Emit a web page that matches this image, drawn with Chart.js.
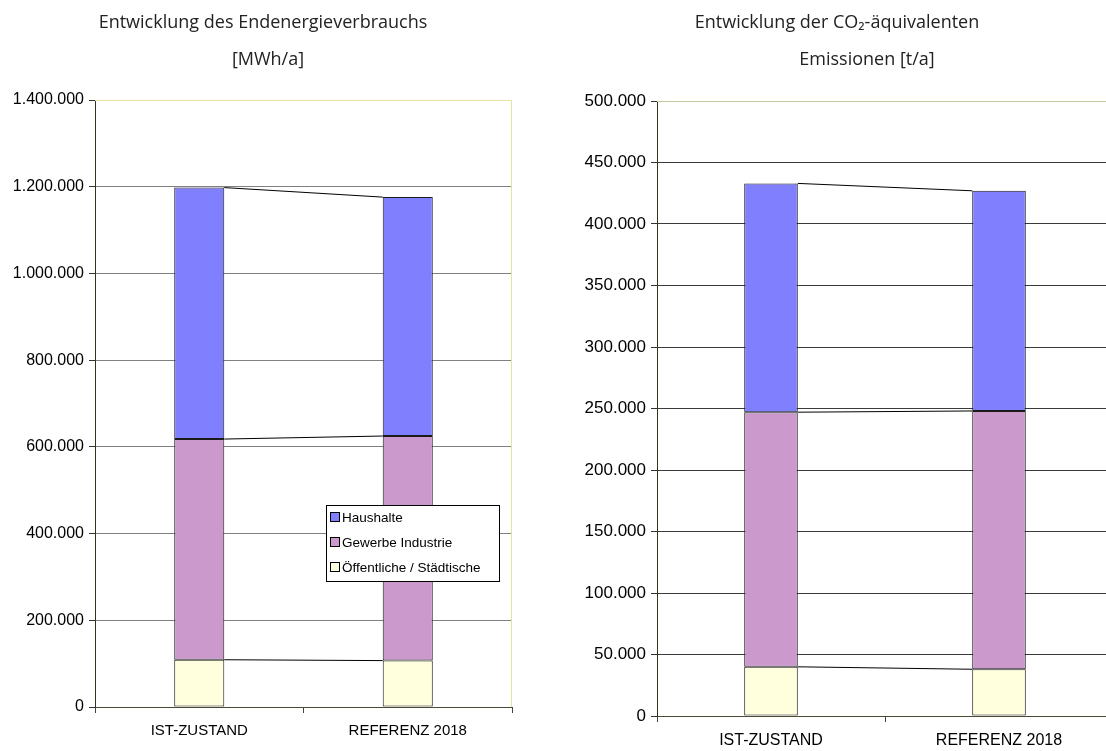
<!DOCTYPE html>
<html>
<head>
<meta charset="utf-8">
<script src="https://cdn.jsdelivr.net/npm/chart.js@4.4.1/dist/chart.umd.min.js"></script>
<style>
  html, body { margin: 0; padding: 0; background: #fff; overflow: hidden; }
  #wrap { position: relative; width: 1106px; height: 751px; overflow: hidden; }
  canvas { position: absolute; top: 0; }
  #energyChart { left: 0; }
  #co2Chart { left: 553px; }
</style>
</head>
<body>
<div id="wrap">
  <canvas id="energyChart" width="553" height="751"></canvas>
  <canvas id="co2Chart" width="570" height="751"></canvas>
</div>
<script>
const categories = ["IST-ZUSTAND", "REFERENZ 2018"];
const seriesLabels = ["Haushalte", "Gewerbe Industrie", "Öffentliche / Städtische"];
const seriesColors = ["#8080ff", "#cc99cc", "#ffffdd"];

// Endenergieverbrauch [MWh/a]
const energyHaushalte = [580000, 551000];
const energyGewerbe = [509000, 518000];
const energyOeffentlich = [109000, 107000];
const energyTitle = ["Entwicklung des Endenergieverbrauchs", "[MWh/a]"];
const energyMax = 1400000;
const energyStep = 200000;

// CO2-äquivalente Emissionen [t/a]
const co2Haushalte = [186000, 179000];
const co2Gewerbe = [207000, 210000];
const co2Oeffentlich = [40000, 38000];
const co2Title = ["Entwicklung der CO₂-äquivalenten", "Emissionen [t/a]"];
const co2Max = 500000;
const co2Step = 50000;

function fmt(v) {
  return String(v).replace(/\B(?=(\d{3})+(?!\d))/g, ".");
}

function makeDatasets(haushalte, gewerbe, oeffentlich) {
  // bottom segment first so the stack matches the legend read top-down
  const values = [haushalte, gewerbe, oeffentlich];
  return [2, 1, 0].map((i) => ({
    label: seriesLabels[i],
    data: values[i],
    backgroundColor: seriesColors[i],
    borderColor: "#1a1a1a",
    borderWidth: 1,
    borderSkipped: false,
    stack: "s",
  }));
}

// thin lines joining the segment tops of neighbouring columns
const seriesLines = {
  id: "seriesLines",
  afterDatasetsDraw(chart) {
    const ctx = chart.ctx;
    ctx.save();
    ctx.strokeStyle = "#000";
    ctx.lineWidth = 1;
    chart.data.datasets.forEach((ds, d) => {
      const bars = chart.getDatasetMeta(d).data;
      for (let i = 0; i < bars.length - 1; i++) {
        const a = bars[i], b = bars[i + 1];
        ctx.beginPath();
        ctx.moveTo(a.x + a.width / 2, a.y);
        ctx.lineTo(b.x - b.width / 2, b.y);
        ctx.stroke();
      }
    });
    ctx.restore();
  },
};

// plot area border (top and right) and the two-line heading
const frameAndTitle = {
  id: "frameAndTitle",
  beforeDatasetsDraw(chart, args, opts) {
    const { left, right, top, bottom } = chart.chartArea;
    const ctx = chart.ctx;
    ctx.save();
    ctx.strokeStyle = opts.frameColor;
    ctx.lineWidth = 1;
    ctx.beginPath();
    ctx.moveTo(left, top + 0.5);
    ctx.lineTo(right, top + 0.5);
    ctx.moveTo(right - 0.5, top);
    ctx.lineTo(right - 0.5, bottom);
    ctx.stroke();
    ctx.restore();
  },
  afterDraw(chart, args, opts) {
    const ctx = chart.ctx;
    ctx.save();
    ctx.fillStyle = "#222";
    ctx.font = opts.font;
    ctx.textAlign = "center";
    ctx.textBaseline = "middle";
    opts.lines.forEach((t, i) => ctx.fillText(t, opts.centers[i], opts.rows[i]));
    ctx.restore();
  },
};

// legend box drawn over the plot of the energy chart
const boxLegend = {
  id: "boxLegend",
  afterDraw(chart, args, opts) {
    if (!opts.show) return;
    const ctx = chart.ctx;
    const { x, y, w, h } = opts;
    ctx.save();
    ctx.fillStyle = "#fff";
    ctx.fillRect(x, y, w, h);
    ctx.strokeStyle = "#000";
    ctx.lineWidth = 1;
    ctx.strokeRect(x + 0.5, y + 0.5, w, h);
    ctx.font = "13.5px 'Liberation Sans', Arial, sans-serif";
    ctx.textBaseline = "middle";
    const items = chart.data.datasets.slice().reverse();
    items.forEach((ds, i) => {
      const cy = y + 12 + i * 25;
      ctx.fillStyle = ds.backgroundColor;
      ctx.fillRect(x + 4.5, cy - 4.5, 9, 9);
      ctx.strokeStyle = "#000";
      ctx.strokeRect(x + 4.5, cy - 4.5, 9, 9);
      ctx.fillStyle = "#000";
      ctx.fillText(ds.label, x + 16, cy + 1);
    });
    ctx.restore();
  },
};

function buildChart(id, cfg) {
  return new Chart(document.getElementById(id), {
    type: "bar",
    data: {
      labels: categories,
      datasets: makeDatasets(cfg.haushalte, cfg.gewerbe, cfg.oeffentlich),
    },
    plugins: [frameAndTitle, seriesLines, boxLegend],
    options: {
      responsive: false,
      animation: false,
      events: [],
      categoryPercentage: 1,
      barPercentage: cfg.barPct,
      layout: { padding: { top: cfg.top, right: cfg.right, left: 0, bottom: 0 } },
      plugins: {
        legend: { display: false },
        title: { display: false },
        tooltip: { enabled: false },
        frameAndTitle: {
          frameColor: cfg.frameColor,
          font: cfg.titleFont,
          lines: cfg.title,
          centers: cfg.titleCenters,
          rows: [23, 60],
        },
        boxLegend: cfg.legend,
      },
      scales: {
        x: {
          stacked: true,
          afterFit: (s) => { s.height = cfg.xHeight; },
          grid: { drawOnChartArea: false, drawTicks: true, tickLength: 6, color: "#444" },
          border: { color: "#4a4a30", width: 1 },
          ticks: {
            color: "#000",
            padding: 9,
            font: { family: "'Liberation Sans', Arial, sans-serif", size: cfg.xFontSize },
          },
        },
        y: {
          stacked: true,
          min: 0,
          max: cfg.max,
          afterFit: (s) => { s.width = cfg.yWidth; },
          grid: {
            color: (c) => (c.tick && c.tick.value === cfg.max ? "rgba(0,0,0,0)" : cfg.gridColor),
            tickColor: "#333",
            tickLength: 6,
          },
          border: { color: "#333320", width: 1 },
          ticks: {
            stepSize: cfg.step,
            color: "#000",
            padding: 5,
            font: { family: "'Liberation Sans', Arial, sans-serif", size: cfg.yFontSize },
            callback: (v) => fmt(v),
          },
        },
      },
    },
  });
}

buildChart("energyChart", {
  haushalte: energyHaushalte,
  gewerbe: energyGewerbe,
  oeffentlich: energyOeffentlich,
  max: energyMax,
  step: energyStep,
  barPct: 0.24,
  top: 100,
  right: 41,
  yWidth: 95,
  xHeight: 44,
  yFontSize: 16,
  xFontSize: 15,
  gridColor: "#808080",
  frameColor: "#e4e4a0",
  title: energyTitle,
  titleFont: "18px 'Open Sans', Lato, sans-serif",
  titleCenters: [263, 268],
  legend: { show: true, x: 326, y: 505, w: 173, h: 76 },
});

buildChart("co2Chart", {
  haushalte: co2Haushalte,
  gewerbe: co2Gewerbe,
  oeffentlich: co2Oeffentlich,
  max: co2Max,
  step: co2Step,
  barPct: 0.235,
  top: 101,
  right: 10,
  yWidth: 104,
  xHeight: 35,
  yFontSize: 17,
  xFontSize: 16,
  gridColor: "#3a3a3a",
  frameColor: "#c8c8a0",
  title: co2Title,
  titleFont: "18px 'Open Sans', Lato, sans-serif",
  titleCenters: [284, 314],
  legend: { show: false },
});
</script>
</body>
</html>
